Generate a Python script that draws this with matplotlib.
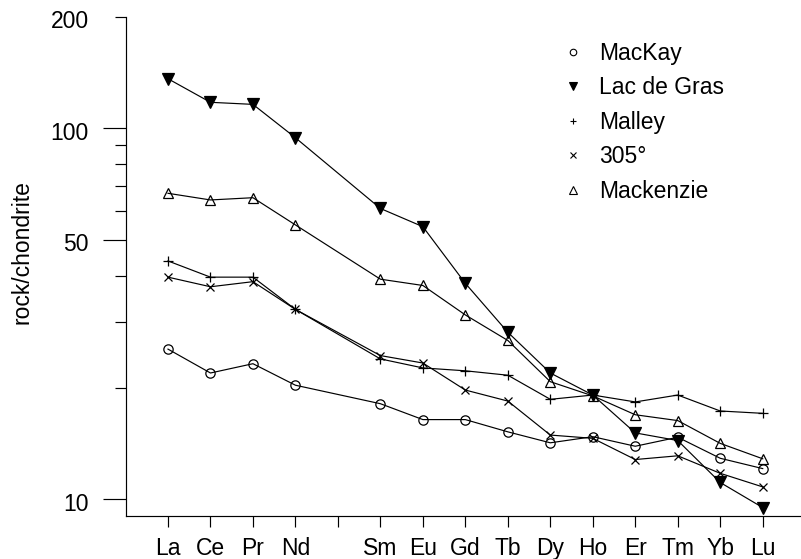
import matplotlib
matplotlib.use("Agg")
import matplotlib.pyplot as plt
from matplotlib.lines import Line2D
from matplotlib.transforms import ScaledTranslation

plt.rcParams['font.family'] = ['Liberation Sans', 'DejaVu Sans']

# REE order, Pm (slot 5) left empty
elements = ["La", "Ce", "Pr", "Nd", "", "Sm", "Eu", "Gd", "Tb", "Dy", "Ho", "Er", "Tm", "Yb", "Lu"]
xpos = [1, 2, 3, 4, 6, 7, 8, 9, 10, 11, 12, 13, 14, 15]

# chondrite-normalised values
mackay = [25.4, 21.9, 23.2, 20.3, 18.1, 16.4, 16.4, 15.2, 14.2, 14.75, 13.9, 14.7, 12.9, 12.1]
lac_de_gras = [136, 117.5, 116, 94.3, 60.8, 54.3, 38.2, 28.2, 21.9, 19.1, 15.1, 14.4, 11.1, 9.5]
malley = [43.9, 39.7, 39.7, 32.5, 23.9, 22.6, 22.2, 21.6, 18.6, 19.1, 18.3, 19.1, 17.3, 17.05]
k305 = [39.7, 37.4, 38.6, 32.5, 24.4, 23.3, 19.7, 18.4, 14.9, 14.6, 12.8, 13.1, 11.75, 10.8]
mackenzie = [66.8, 64.1, 65.0, 54.9, 39.2, 37.7, 31.4, 26.8, 20.75, 19.0, 16.9, 16.3, 14.15, 12.86]

series = [
    ("MacKay", mackay, dict(marker="o", ms=6.7, mfc="none")),
    ("Lac de Gras", lac_de_gras, dict(marker="v", ms=8.0, mfc="black")),
    ("Malley", malley, dict(marker="+", ms=7.0)),
    ("305\u00b0", k305, dict(marker="x", ms=6.2)),
    ("Mackenzie", mackenzie, dict(marker="^", ms=7.8, mfc="none")),
]

W, H = 801, 559
fig = plt.figure(figsize=(W / 100, H / 100), dpi=100)

# axes box in pixels: x 0..16 -> 125.5..805, y bottom 516, top 16.6
ax = fig.add_axes([125.5 / W, (H - 516) / H, (805.2 - 125.5) / W, (516 - 16.6) / H])
ax.set_yscale("log")
ax.set_xlim(0, 16)
ax.set_ylim(9.016, 200)

for name, vals, st in series:
    ax.plot(xpos, vals, color="black", lw=0.85, mec="black", mew=0.9,
            clip_on=False, **st)

for s in ("top", "right"):
    ax.spines[s].set_visible(False)
for s in ("left", "bottom"):
    ax.spines[s].set_linewidth(0.85)

# x axis
ax.set_xticks(range(1, 16))
ax.set_xticklabels(elements, fontsize=16.5)
ax.xaxis.set_minor_locator(matplotlib.ticker.NullLocator())
ax.tick_params(axis="x", length=8, width=0.85, pad=7)

# y axis: long ticks at 10, 50, 100, short ones elsewhere
ax.set_yticks([10, 50, 100])
ax.set_yticks([20, 30, 40, 60, 70, 80, 90, 200], minor=True)
ax.tick_params(axis="y", which="major", length=16.5, width=0.85, labelleft=False)
ax.tick_params(axis="y", which="minor", length=8, width=0.85, labelleft=False)

ytr = ax.get_yaxis_transform() + ScaledTranslation(-36.5 / 100, -5 / 100, fig.dpi_scale_trans)
for v in [10, 50, 100, 200]:
    ax.text(0, v, str(v), transform=ytr, ha="right", va="center", fontsize=16.5)

fig.text(22 / W, 1 - 252 / H, "rock/chondrite", rotation=90, fontsize=16.5,
         ha="center", va="center")

# legend
handles = []
for name, vals, st in series:
    st2 = dict(st)
    st2["ms"] = st["ms"] * 0.7
    handles.append(Line2D([], [], color="black", ls="none", mec="black", mew=0.8, **st2))
ax.legend(handles, [s[0] for s in series], loc="upper left",
          bbox_to_anchor=(562 / W, 1 - 42 / H), bbox_transform=fig.transFigure,
          frameon=False, borderpad=0, borderaxespad=0, fontsize=16.5,
          handlelength=1.0, handletextpad=0.6, labelspacing=0.5)

fig.savefig("out.png", dpi=100)
